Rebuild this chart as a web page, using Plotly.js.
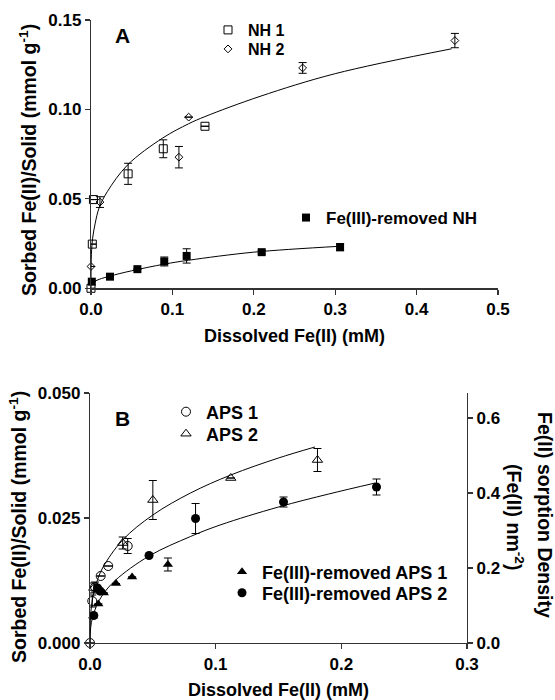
<!DOCTYPE html>
<html>
<head>
<meta charset="utf-8">
<script src="https://cdn.plot.ly/plotly-3.0.1.min.js"></script>
<style>html,body{margin:0;padding:0;background:#fff;}#chart{width:555px;height:700px;}</style>
</head>
<body>
<div id="chart"></div>
<script>
// ---------- Panel A data ----------
const nh1X = [0, 0.0016, 0.003, 0.0456, 0.0888, 0.140];
const nh1Y = [0, 0.0247, 0.0496, 0.0640, 0.0780, 0.0906];
const nh1Err = [null, null, null, 0.0059, 0.005, null];

const nh2X = [0, 0.011, 0.108, 0.120, 0.260, 0.447];
const nh2Y = [0.0122, 0.0482, 0.0733, 0.0957, 0.1232, 0.1385];
const nh2Err = [null, 0.003, 0.006, null, 0.003, 0.004];

const remNhX = [0.001, 0.0233, 0.057, 0.090, 0.1175, 0.2097, 0.306];
const remNhY = [0.0037, 0.0065, 0.0107, 0.0150, 0.0181, 0.0202, 0.0230];
const remNhErr = [null, null, null, 0.0025, 0.004, 0.001, 0.002];

// fitted curves
const fitNhX = [0, 0.0005, 0.002, 0.005, 0.01, 0.02, 0.045, 0.088, 0.12, 0.14, 0.2076, 0.3, 0.443];
const fitNhY = [0, 0.019, 0.028, 0.036, 0.045, 0.054, 0.069, 0.084, 0.092, 0.096, 0.1073, 0.120, 0.1339];
const fitRemNhX = [0, 0.01, 0.023, 0.05, 0.09, 0.12, 0.2, 0.306];
const fitRemNhY = [0.003, 0.0050, 0.0068, 0.0098, 0.0135, 0.0157, 0.0202, 0.0235];

// ---------- Panel B data ----------
const aps1X = [0, 0.0018, 0.004, 0.0085, 0.0145, 0.030];
const aps1Y = [0, 0.0084, 0.0112, 0.0134, 0.0154, 0.0194];
const aps1Err = [null, 0.0012, 0.0010, null, null, 0.0015];

const aps2X = [0.003, 0.026, 0.050, 0.112, 0.181];
const aps2Y = [0.0110, 0.0200, 0.0286, 0.0330, 0.0366];
const aps2Err = [0.001, 0.0012, 0.0039, null, 0.0023];

const remAps1X = [0.0025, 0.0066, 0.011, 0.0207, 0.0335, 0.062];
const remAps1Y = [0.0054, 0.0078, 0.0100, 0.0119, 0.0132, 0.0157];
const remAps1Err = [null, null, null, null, null, 0.0013];

const remAps2X = [0.003, 0.006, 0.008, 0.047, 0.084, 0.154, 0.228];
const remAps2Y = [0.0055, 0.0110, 0.0104, 0.0175, 0.0249, 0.0282, 0.0312];
const remAps2Err = [null, null, null, null, 0.003, 0.001, 0.0016];

const fitApsX = [0, 0.0005, 0.002, 0.005, 0.01, 0.026, 0.05, 0.08, 0.112, 0.15, 0.179];
const fitApsY = [0, 0.0055, 0.0088, 0.0119, 0.0150, 0.0206, 0.0256, 0.0300, 0.0336, 0.0370, 0.0392];
const fitRemApsX = [0, 0.0005, 0.002, 0.005, 0.01, 0.02, 0.047, 0.08, 0.1035, 0.15, 0.19, 0.227];
const fitRemApsY = [0, 0.0030, 0.0051, 0.0073, 0.0096, 0.0125, 0.0174, 0.0213, 0.0236, 0.0272, 0.0298, 0.0320];

// axis ticks
const xTicksA = [0, 0.1, 0.2, 0.3, 0.4, 0.5];
const yTicksA = [0, 0.05, 0.10, 0.15];
const xTicksB = [0, 0.1, 0.2, 0.3];
const yTicksB = [0, 0.025, 0.050];
const y2TicksB = [0, 0.2, 0.4, 0.6];

// ---------- styling ----------
const FONT = 'Liberation Sans, Arial, Helvetica, sans-serif';
const W = 555, H = 700;
const px = v => v / W;
const py = v => 1 - v / H;
const axisCol = '#333';

function errBar(arr) {
  return {type: 'data', array: arr, visible: true, color: '#000', thickness: 1, width: 4};
}
function pts(x, y, err, symbol, size, name, xa, ya, legend) {
  const open = symbol.indexOf('open') >= 0;
  return {
    type: 'scatter', mode: 'markers', x: x, y: y, name: name,
    xaxis: xa, yaxis: ya, legend: legend, cliponaxis: false,
    error_y: errBar(err),
    marker: {symbol: symbol, size: size, color: '#000', line: {color: '#000', width: open ? 1 : 0}}
  };
}
function fit(x, y, xa, ya) {
  return {
    type: 'scatter', mode: 'lines', x: x, y: y, xaxis: xa, yaxis: ya, showlegend: false,
    line: {color: '#000', width: 1, shape: 'spline', smoothing: 1}, hoverinfo: 'skip'
  };
}

const traces = [
  fit(fitNhX, fitNhY, 'x', 'y'),
  fit(fitRemNhX, fitRemNhY, 'x', 'y'),
  pts(nh1X, nh1Y, nh1Err, 'square-open', 8, 'NH 1', 'x', 'y', 'legend'),
  pts(nh2X, nh2Y, nh2Err, 'diamond-open', 6, 'NH 2', 'x', 'y', 'legend2'),
  pts(remNhX, remNhY, remNhErr, 'square', 8, 'Fe(III)-removed NH', 'x', 'y', 'legend3'),
  fit(fitApsX, fitApsY, 'x2', 'y2'),
  fit(fitRemApsX, fitRemApsY, 'x2', 'y2'),
  pts(aps1X, aps1Y, aps1Err, 'circle-open', 9, 'APS 1', 'x2', 'y2', 'legend4'),
  pts(aps2X, aps2Y, aps2Err, 'triangle-up-open', 9, 'APS 2', 'x2', 'y2', 'legend5'),
  pts(remAps1X, remAps1Y, remAps1Err, 'triangle-up', 9, 'Fe(III)-removed APS 1', 'x2', 'y2', 'legend6'),
  pts(remAps2X, remAps2Y, remAps2Err, 'circle', 9, 'Fe(III)-removed APS 2', 'x2', 'y2', 'legend7'),
  {type: 'scatter', mode: 'markers', x: [], y: [], xaxis: 'x2', yaxis: 'y3', showlegend: false}
];

const tickFont = {family: FONT, size: 17, color: '#000', weight: 'bold'};
function baseAxis(extra) {
  return Object.assign({
    showline: true, linecolor: axisCol, linewidth: 1.2, ticks: 'outside', ticklen: 5,
    tickcolor: axisCol, tickwidth: 1.2, showgrid: false, zeroline: false, automargin: false,
    tickfont: tickFont, fixedrange: true
  }, extra);
}
const titleFont = {family: FONT, size: 18, color: '#000', weight: 'bold'};

function legendAt(xc, yc, size) {
  return {x: px(xc - 20), y: py(yc), xanchor: 'left', yanchor: 'middle', bgcolor: 'rgba(0,0,0,0)',
    borderwidth: 0, itemwidth: 30, font: {family: FONT, size: size, color: '#000', weight: 'bold'}};
}
function note(text, x, y, size, angle) {
  return {text: text, x: px(x), y: py(y), xref: 'paper', yref: 'paper', xanchor: 'center', yanchor: 'middle',
    showarrow: false, textangle: angle || 0, font: {family: FONT, size: size, color: '#000', weight: 'bold'}};
}

const layout = {
  width: W, height: H, margin: {l: 0, r: 0, t: 0, b: 0},
  paper_bgcolor: '#fff', plot_bgcolor: 'rgba(0,0,0,0)',
  font: {family: FONT, color: '#000'},
  showlegend: true,
  xaxis: baseAxis({domain: [px(91), px(498)], range: [0, 0.5], anchor: 'y',
    tickvals: xTicksA, tickformat: '.1f',
    title: {text: 'Dissolved Fe(II) (mM)', font: titleFont, standoff: 11}}),
  yaxis: baseAxis({domain: [py(288.3), py(20)], range: [0, 0.15], anchor: 'x',
    tickvals: yTicksA, tickformat: '.2f'}),
  xaxis2: baseAxis({domain: [px(90), px(467)], range: [0, 0.3], anchor: 'y2',
    tickvals: xTicksB, tickformat: '.1f',
    title: {text: 'Dissolved Fe(II) (mM)', font: titleFont, standoff: 10}}),
  yaxis2: baseAxis({domain: [py(643), py(393)], range: [0, 0.05], anchor: 'x2',
    tickvals: yTicksB, tickformat: '.3f'}),
  yaxis3: baseAxis({overlaying: 'y2', side: 'right', anchor: 'x2', range: [0, 0.6667],
    tickvals: y2TicksB, tickformat: '.1f'}),
  legend: legendAt(228, 30, 16),
  legend2: legendAt(228, 49, 16),
  legend3: legendAt(306, 218, 17),
  legend4: legendAt(186, 412, 18),
  legend5: legendAt(186, 434, 18),
  legend6: legendAt(242, 572, 18),
  legend7: legendAt(242, 593, 18),
  annotations: [
    note('A', 122, 36, 21),
    note('B', 122, 418, 21),
    note('Sorbed Fe(II)/Solid (mmol g<sup>-1</sup>)', 28, 160, 19.5, -90),
    note('Sorbed Fe(II)/Solid (mmol g<sup>-1</sup>)', 18, 527, 19.5, -90),
    note('Fe(II) sorption Density', 545, 515, 19.5, 90),
    note('(Fe(II) nm<sup>-2</sup>)', 515, 517, 19.5, 90)
  ]
};

Plotly.newPlot('chart', traces, layout, {displayModeBar: false, staticPlot: true});
</script>
</body>
</html>
